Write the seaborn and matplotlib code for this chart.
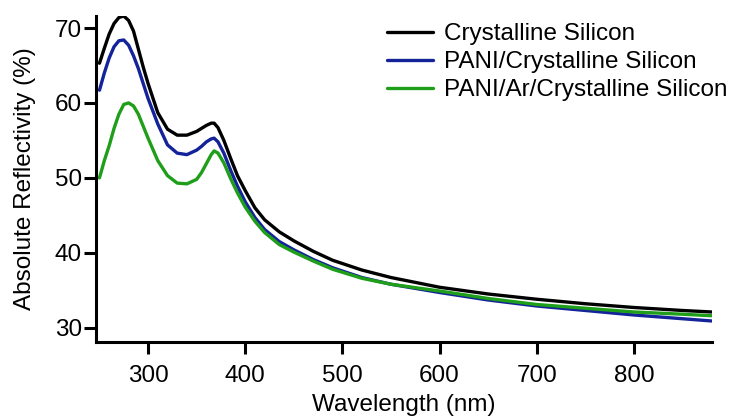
import numpy as np
import pandas as pd
import matplotlib
matplotlib.use("Agg")
import matplotlib.pyplot as plt
import seaborn as sns

wavelength = [250, 255, 260, 265, 270, 275, 280, 285, 290, 295, 300, 310, 320, 330, 340,
              350, 355, 360, 365, 368, 372, 378, 385, 392, 400, 410, 420, 435, 450, 470,
              490, 520, 550, 600, 650, 700, 750, 800, 850, 880]

crystalline = [65.3, 67.3, 69.2, 70.6, 71.4, 71.6, 71.0, 69.6, 67.2, 64.8, 62.6, 58.7, 56.5, 55.7, 55.7,
               56.2, 56.6, 57.0, 57.3, 57.3, 56.7, 55.0, 52.6, 50.3, 48.3, 46.0, 44.4, 42.8, 41.6, 40.2,
               39.0, 37.7, 36.7, 35.4, 34.5, 33.8, 33.2, 32.7, 32.3, 32.1]

pani = [61.7, 64.0, 66.0, 67.5, 68.3, 68.4, 67.7, 66.3, 64.6, 62.6, 60.6, 57.2, 54.4, 53.3, 53.1,
        53.7, 54.2, 54.8, 55.2, 55.3, 54.8, 53.3, 51.0, 48.9, 46.8, 44.7, 43.1, 41.5, 40.4, 39.1,
        38.0, 36.7, 35.8, 34.7, 33.7, 32.9, 32.3, 31.7, 31.2, 30.9]

pani_ar = [50.0, 52.3, 54.3, 56.6, 58.5, 59.8, 60.0, 59.6, 58.5, 56.9, 55.3, 52.3, 50.3, 49.3, 49.2,
           49.8, 50.7, 51.9, 53.1, 53.6, 53.3, 52.0, 49.9, 48.0, 46.1, 44.2, 42.7, 41.1, 40.1, 38.9,
           37.8, 36.6, 35.8, 34.9, 33.9, 33.1, 32.6, 32.1, 31.8, 31.6]

series_names = ["Crystalline Silicon", "PANI/Crystalline Silicon", "PANI/Ar/Crystalline Silicon"]
colors = ["#000000", "#14239a", "#1f9e1a"]

x_ticks = [300, 400, 500, 600, 700, 800]
y_ticks = [30, 40, 50, 60, 70]

frames = []
for name, vals in zip(series_names, [crystalline, pani, pani_ar]):
    frames.append(pd.DataFrame({"Wavelength": wavelength, "Reflectivity": vals, "Sample": name}))
df = pd.concat(frames, ignore_index=True)

sns.set_style("ticks")
plt.rcParams["font.family"] = ["Liberation Sans", "DejaVu Sans"]
plt.rcParams["text.color"] = "black"
plt.rcParams["axes.labelcolor"] = "black"
plt.rcParams["xtick.color"] = "black"
plt.rcParams["ytick.color"] = "black"
plt.rcParams["lines.solid_joinstyle"] = "round"

fs = 17.5
fig = plt.figure(figsize=(7.36, 4.16), dpi=100)
ax = fig.add_axes([0.1304, 0.178, 0.8370, 0.7835])

sns.lineplot(data=df, x="Wavelength", y="Reflectivity", hue="Sample",
             hue_order=series_names, palette=colors, linewidth=2.4, ax=ax, sort=False)

ax.set_xlim(246.4, 880.4)
ax.set_ylim(28.1, 71.6)
ax.set_xticks(x_ticks)
ax.set_yticks(y_ticks)
ax.tick_params(axis="both", labelsize=fs, length=8.5, width=2.2, direction="out",
               color="black", labelcolor="black")
ax.tick_params(axis="x", pad=8.3)
ax.tick_params(axis="y", pad=1.5)
for s in ["top", "right"]:
    ax.spines[s].set_visible(False)
for s in ["left", "bottom"]:
    ax.spines[s].set_linewidth(2.2)
    ax.spines[s].set_color("black")

ax.set_xlabel("Wavelength (nm)", fontsize=fs, labelpad=5, color="black")
ax.set_ylabel("Absolute Reflectivity (%)", fontsize=fs, labelpad=14, color="black")

leg = ax.legend(title=None, fontsize=fs, frameon=False, loc="upper left",
                bbox_to_anchor=(387 / 736, 1 - 23 / 416), bbox_transform=fig.transFigure,
                handlelength=1.9, handletextpad=0.45, labelspacing=0.25,
                borderaxespad=0, borderpad=0)
for line in leg.get_lines():
    line.set_linewidth(2.4)

fig.savefig("out.png", dpi=100)
